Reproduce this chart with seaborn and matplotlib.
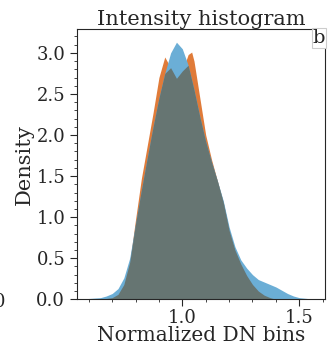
import matplotlib
matplotlib.use("Agg")
import matplotlib.pyplot as plt
import seaborn as sns
import numpy as np
from matplotlib.ticker import MultipleLocator

# density curves (x = normalized DN, y = density)
blue_x = [0.55, 0.60, 0.65, 0.675, 0.70, 0.725, 0.75, 0.775, 0.80, 0.825, 0.85, 0.875,
          0.90, 0.925, 0.95, 0.975, 1.00, 1.025, 1.05, 1.075, 1.10, 1.125, 1.15,
          1.175, 1.20, 1.225, 1.25, 1.275, 1.30, 1.325, 1.35, 1.375, 1.40, 1.425,
          1.45, 1.475, 1.50, 1.55, 1.60]
blue_y = [0.0, 0.01, 0.02, 0.04, 0.07, 0.13, 0.26, 0.50, 0.92, 1.33, 1.72, 2.10,
          2.45, 2.75, 3.00, 3.13, 3.05, 2.85, 2.55, 2.22, 1.92, 1.67, 1.44,
          1.20, 0.88, 0.64, 0.48, 0.38, 0.30, 0.24, 0.21, 0.18, 0.15, 0.11,
          0.07, 0.04, 0.02, 0.005, 0.0]

orange_x = [0.55, 0.65, 0.70, 0.725, 0.75, 0.775, 0.80, 0.825, 0.85, 0.875,
            0.90, 0.925, 0.95, 0.975, 1.00, 1.025, 1.04, 1.05, 1.075, 1.10,
            1.125, 1.15, 1.175, 1.20, 1.225, 1.25, 1.275, 1.30, 1.325, 1.35,
            1.375, 1.40, 1.60]
orange_y = [0.0, 0.0, 0.02, 0.06, 0.18, 0.45, 0.97, 1.47, 1.87, 2.27,
            2.70, 2.95, 2.82, 2.69, 2.78, 2.98, 3.01, 2.90, 2.45, 2.00,
            1.70, 1.44, 1.18, 0.84, 0.60, 0.43, 0.29, 0.18, 0.10, 0.05,
            0.02, 0.0, 0.0]

sns.set_style("ticks")
plt.rcParams['font.family'] = ['DejaVu Serif', 'DejaVu Sans']

fig = plt.figure(figsize=(3.32, 3.46), dpi=100)
ax = fig.add_axes([0.232, 0.135, 0.747, 0.781])

ax.fill_between(orange_x, orange_y, color='#E07B39', linewidth=0)
ax.fill_between(blue_x, blue_y, color='#6BAED6', linewidth=0)
# overlap region
grid = np.union1d(blue_x, orange_x)
overlap = np.minimum(np.interp(grid, blue_x, blue_y), np.interp(grid, orange_x, orange_y))
ax.fill_between(grid, overlap, color='#667572', linewidth=0)

ax.set_xlim(0.55, 1.61)
ax.set_ylim(0, 3.29)
ax.xaxis.set_major_locator(MultipleLocator(0.5))
ax.xaxis.set_minor_locator(MultipleLocator(0.1))
ax.yaxis.set_major_locator(MultipleLocator(0.5))
ax.yaxis.set_minor_locator(MultipleLocator(0.1))
ax.tick_params(which='major', length=5, labelsize=13, direction='out')
ax.tick_params(which='minor', length=2.5)
ax.tick_params(axis='x', pad=2)

ax.set_title('Intensity histogram', fontsize=15, pad=1)
ax.set_xlabel('Normalized DN bins', fontsize=14.5, labelpad=-1)
ax.set_ylabel('Density', fontsize=15, labelpad=2)
for s in ax.spines.values():
    s.set_linewidth(0.8)

ax.text(1.0, 1.0, 'b', transform=ax.transAxes, ha='right', va='top', fontsize=14,
        bbox=dict(facecolor='white', edgecolor='#cccccc', pad=0.5, linewidth=0.8))

# cut-off tick label from the neighbouring panel
fig.text(0.0, 0.128, '0', ha='center', va='center', fontsize=13)

fig.savefig('out.png', dpi=100)
